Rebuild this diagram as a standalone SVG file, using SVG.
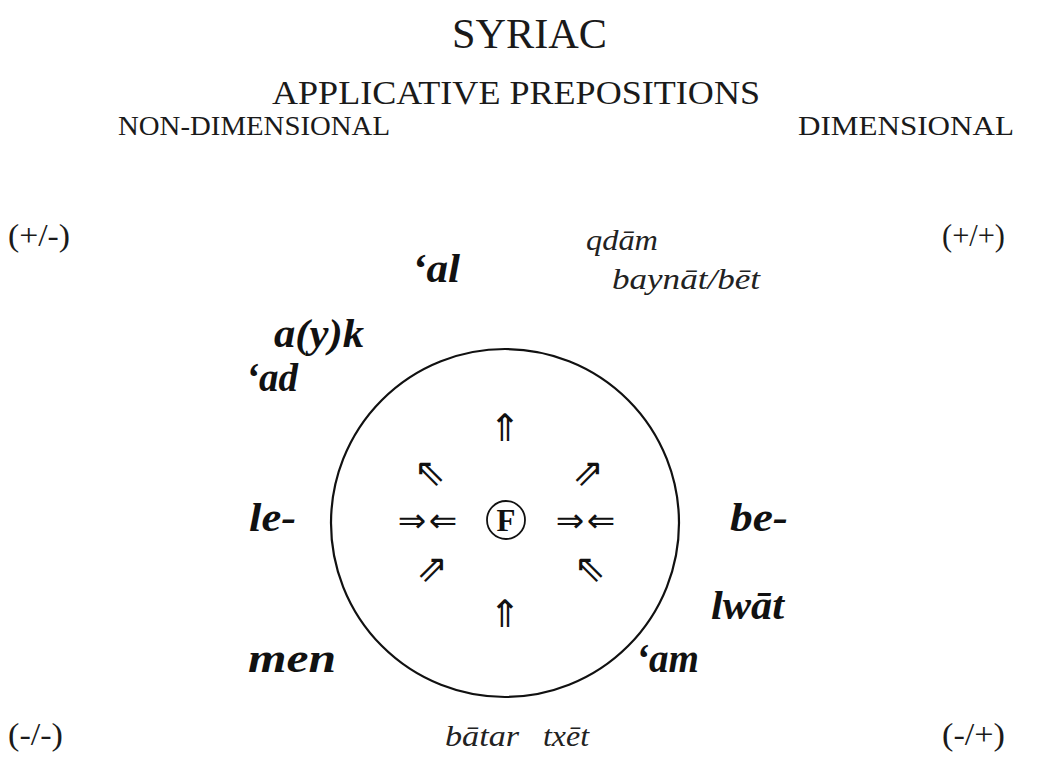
<svg xmlns="http://www.w3.org/2000/svg" width="1038" height="774" viewBox="0 0 1038 774">
<style>
.t{font-family:"Liberation Serif","Times New Roman",serif;fill:#1a1a1a}
.bi{font-family:"Liberation Serif","Times New Roman",serif;font-style:italic;font-weight:bold;font-size:40px;fill:#111}
.it{font-family:"Liberation Serif","Times New Roman",serif;font-style:italic;font-size:29px;fill:#222}
.ar{font-family:"DejaVu Sans",sans-serif;font-size:38px;fill:#111;text-anchor:middle;dominant-baseline:central}
.ah{font-family:"DejaVu Sans",sans-serif;font-size:34px;fill:#111;text-anchor:middle;dominant-baseline:central}
</style>
<rect width="1038" height="774" fill="#fff"/>
<g id="title"><text class="t" x="452" y="48" font-size="42" textLength="155" lengthAdjust="spacingAndGlyphs">SYRIAC</text></g>
<g id="subtitle"><text class="t" x="272" y="104" font-size="34" textLength="488" lengthAdjust="spacingAndGlyphs">APPLICATIVE PREPOSITIONS</text></g>
<g id="nondim"><text class="t" x="118" y="135" font-size="27" textLength="272" lengthAdjust="spacingAndGlyphs">NON-DIMENSIONAL</text></g>
<g id="dim"><text class="t" x="798" y="135" font-size="27" textLength="216" lengthAdjust="spacingAndGlyphs">DIMENSIONAL</text></g>
<g id="q-pm"><text class="t" x="8" y="246" font-size="32" textLength="62" lengthAdjust="spacingAndGlyphs">(+/-)</text></g>
<g id="q-pp"><text class="t" x="942" y="246" font-size="32" textLength="63" lengthAdjust="spacingAndGlyphs">(+/+)</text></g>
<g id="q-mm"><text class="t" x="8" y="745" font-size="32" textLength="55" lengthAdjust="spacingAndGlyphs">(-/-)</text></g>
<g id="q-mp"><text class="t" x="942" y="745" font-size="32" textLength="63" lengthAdjust="spacingAndGlyphs">(-/+)</text></g>
<g id="qdam"><text class="it" x="586" y="250" textLength="72" lengthAdjust="spacingAndGlyphs">qdām</text></g>
<g id="baynat"><text class="it" x="612" y="289" textLength="148" lengthAdjust="spacingAndGlyphs">baynāt/bēt</text></g>
<g id="batar"><text class="it" x="445" y="746" textLength="74" lengthAdjust="spacingAndGlyphs">bātar</text></g>
<g id="txet"><text class="it" x="543" y="746" textLength="46" lengthAdjust="spacingAndGlyphs">txēt</text></g>
<g id="al"><text class="bi" x="412" y="282" textLength="48" lengthAdjust="spacingAndGlyphs">‘al</text></g>
<g id="ayk"><text class="bi" x="274" y="347" textLength="90" lengthAdjust="spacingAndGlyphs">a(y)k</text></g>
<g id="ad"><text class="bi" x="246" y="391" textLength="52" lengthAdjust="spacingAndGlyphs">‘ad</text></g>
<g id="le"><text class="bi" x="249" y="531" textLength="47" lengthAdjust="spacingAndGlyphs">le-</text></g>
<g id="be"><text class="bi" x="730" y="531" textLength="58" lengthAdjust="spacingAndGlyphs">be-</text></g>
<g id="lwat"><text class="bi" x="711" y="619" textLength="73" lengthAdjust="spacingAndGlyphs">lwāt</text></g>
<g id="am"><text class="bi" x="636" y="672" textLength="63" lengthAdjust="spacingAndGlyphs">‘am</text></g>
<g id="men"><text class="bi" x="248" y="672" textLength="88" lengthAdjust="spacingAndGlyphs">men</text></g>
<g id="circle"><circle cx="505" cy="523" r="174" fill="none" stroke="#111" stroke-width="2.2"/></g>
<g id="focus"><circle cx="506" cy="520" r="19" fill="none" stroke="#111" stroke-width="1.8"/><text x="506" y="531" text-anchor="middle" font-family="Liberation Serif, serif" font-weight="bold" font-size="31" fill="#111">F</text></g>
<g id="arrows">
<text class="ar" x="505" y="428">⇑</text>
<text class="ar" x="430" y="472">⇖</text>
<text class="ar" x="588" y="472">⇗</text>
<text class="ah" x="412" y="520">⇒</text>
<text class="ah" x="443" y="520">⇐</text>
<text class="ah" x="570" y="520">⇒</text>
<text class="ah" x="601" y="520">⇐</text>
<text class="ar" x="432" y="568">⇗</text>
<text class="ar" x="590" y="568">⇖</text>
<text class="ar" x="505" y="614">⇑</text>
</g>
</svg>
